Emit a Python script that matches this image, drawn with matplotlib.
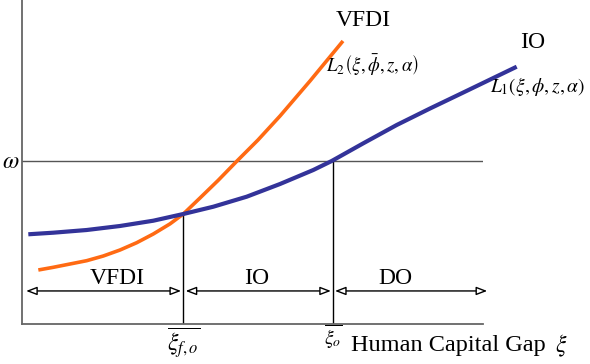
import matplotlib
matplotlib.use("Agg")
import matplotlib.pyplot as plt

plt.rcParams['font.family'] = ['Liberation Serif', 'DejaVu Serif']
plt.rcParams['mathtext.fontset'] = 'stix'

# Data (abstract units: xi on x, wage on y)
io_x = [0.137, 0.679, 1.403, 2.126, 2.848, 3.499, 4.150, 4.874, 5.597, 6.319,
        6.718, 7.403, 8.128, 8.850, 9.573, 10.731]
io_y = [2.769, 2.818, 2.901, 3.025, 3.188, 3.395, 3.620, 3.929, 4.321, 4.753,
        5.031, 5.577, 6.142, 6.651, 7.145, 7.941]
vfdi_x = [0.354, 0.679, 1.041, 1.403, 1.764, 2.126, 2.488, 2.848, 3.210, 3.499,
          3.861, 4.252, 4.664, 5.119, 5.597, 6.247, 6.963]
vfdi_y = [1.667, 1.750, 1.852, 1.954, 2.099, 2.284, 2.509, 2.778, 3.090, 3.395,
          3.889, 4.429, 5.031, 5.679, 6.420, 7.500, 8.735]
omega = 5.03
xi_fo = 3.499
xi_o = 6.74
y_cross = 3.395
region_y = 1.02
regions = ['VFDI', 'IO', 'DO']
region_bounds = [(0.09, 3.45), (3.55, 6.70), (6.79, 10.09)]

W, H = 590, 364
fig = plt.figure(figsize=(W / 100, H / 100), dpi=100)
ax = fig.add_axes([22 / W, (H - 324) / H, 461 / W, 324 / H])
ax.set_xlim(0, 10)
ax.set_ylim(0, 10)
for s in ['top', 'right']:
    ax.spines[s].set_visible(False)
for s in ['left', 'bottom']:
    ax.spines[s].set_color('#666666')
    ax.spines[s].set_linewidth(1.3)
ax.set_xticks([])
ax.set_yticks([])

ax.axhline(omega, color='#555555', lw=1.0)
ax.plot([xi_fo, xi_fo], [0, y_cross], color='black', lw=1.0)
ax.plot([xi_o, xi_o], [0, omega], color='black', lw=1.0)

ax.plot(io_x, io_y, color='#333399', lw=3.0, solid_capstyle='butt',
        solid_joinstyle='round', clip_on=False, zorder=4)
ax.plot(vfdi_x, vfdi_y, color='#FF6A13', lw=2.6, solid_capstyle='butt',
        solid_joinstyle='round', clip_on=False, zorder=3)

for (a, b) in region_bounds:
    ax.annotate('', xy=(b, region_y), xytext=(a, region_y),
                arrowprops=dict(arrowstyle='<|-|>,head_length=0.65,head_width=0.25',
                                fc='white', ec='black', lw=1.0, shrinkA=0, shrinkB=0),
                annotation_clip=False)


def ftext(px, py, s, **kw):
    fig.text(px / W, 1 - py / H, s, **kw)


ftext(117, 278, regions[0], fontsize=17, ha='center', va='center')
ftext(257, 278, regions[1], fontsize=17, ha='center', va='center')
ftext(395, 278, regions[2], fontsize=17, ha='center', va='center')

ftext(363, 20, 'VFDI', fontsize=17, ha='center', va='center')
ftext(533, 43, 'IO', fontsize=17, ha='center', va='center')
ftext(372, 65, r'$L_2\left(\xi,\bar{\phi},z,\alpha\right)$', fontsize=13.5, ha='center', va='center')
ftext(538, 86, r'$L_1\left(\xi,\phi,z,\alpha\right)$', fontsize=14, ha='center', va='center')
ftext(11, 163, r'$\omega$', fontsize=17, ha='center', va='center')

ftext(184, 343, r'$\overline{\xi_{f,o}}$', fontsize=17, ha='center', va='center')
ftext(333, 337, r'$\overline{\xi_{o}}$', fontsize=14, ha='center', va='center')
ftext(351, 346, 'Human Capital Gap', fontsize=17.5, ha='left', va='center')
ftext(561, 346, r'$\xi$', fontsize=17, ha='center', va='center')

fig.savefig('out.png', dpi=100)
